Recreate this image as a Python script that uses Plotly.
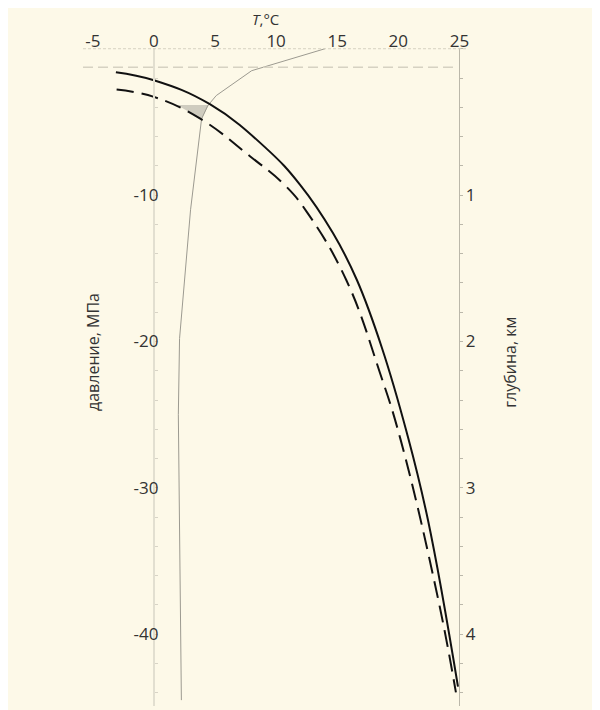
import plotly.graph_objects as go

# ---- data ----
T_ticks = [-5, 0, 5, 10, 15, 20, 25]
P_ticks = [-10, -20, -30, -40]
depth_ticks = [1, 2, 3, 4]

# hydrate stability curve, fresh water (solid)
solid_T = [-3.11, 0.0, 4.58, 9.17, 11.95, 14.65, 16.61, 18.66, 20.70, 22.42, 24.88]
solid_P = [-1.60, -2.15, -3.79, -6.79, -9.28, -12.59, -15.80, -20.44, -26.25, -32.18, -43.58]

# hydrate stability curve, sea water (dashed)
dashed_T = [-3.05, 0.0, 3.76, 7.86, 10.80, 12.58, 15.74, 18.50, 20.19, 23.27, 24.71]
dashed_P = [-2.79, -3.29, -4.76, -7.34, -9.39, -11.23, -15.80, -22.15, -26.72, -37.65, -43.97]

# water temperature profile
profile_T = [14.0, 8.7, 8.0, 5.1, 4.4, 3.9, 3.0, 2.1, 2.0, 2.25]
profile_P = [0.0, -1.35, -1.5, -3.2, -3.9, -4.8, -11.0, -19.8, -25.0, -44.5]

# shaded stability zone
shade_T = [1.9, 4.5, 3.9, 1.9]
shade_P = [-3.85, -3.85, -4.8, -3.85]

surface_P = -1.26
surface_T_end = 24.8

X_RANGE = [-5.8, 25.7]
P_RANGE = [-44.9, 0.05]
DEPTH_RANGE = [4.49, -0.005]

BG = "#fdf9e8"
TXT = "#333333"

def hy(v):
    return str(v).replace("\u2212", "-")

fig = go.Figure()

fig.add_trace(go.Scatter(x=shade_T, y=shade_P, mode="lines", fill="toself",
                         fillcolor="#cfccbf", line=dict(width=0),
                         showlegend=False, hoverinfo="skip"))
fig.add_trace(go.Scatter(x=profile_T, y=profile_P, mode="lines",
                         line=dict(color="#9c9a90", width=1),
                         showlegend=False))
fig.add_trace(go.Scatter(x=solid_T, y=solid_P, mode="lines",
                         line=dict(color="#111111", width=2, shape="spline",
                                   smoothing=1.2),
                         showlegend=False))
fig.add_trace(go.Scatter(x=dashed_T, y=dashed_P, mode="lines",
                         line=dict(color="#111111", width=2, shape="spline",
                                   smoothing=1.2, dash="17px,8px"),
                         showlegend=False))
fig.add_trace(go.Scatter(x=[None], y=[None], yaxis="y2", showlegend=False,
                         hoverinfo="skip"))

# top dotted line (P = 0) and dashed surface line
fig.add_shape(type="line", xref="paper", x0=0, x1=1, yref="y", y0=0, y1=0,
              line=dict(color="#d6d2c2", width=1, dash="3px,2px"))
fig.add_shape(type="line", xref="x", x0=X_RANGE[0], x1=surface_T_end, yref="y",
              y0=surface_P, y1=surface_P,
              line=dict(color="#d6d2c2", width=1.5, dash="10px,5px"))

# axis titles
fig.add_annotation(text="<i>T</i>,°C", xref="paper", x=0.473, yref="paper", y=1,
                   yshift=29, yanchor="middle", xanchor="center",
                   showarrow=False, font=dict(size=15, color=TXT))
fig.add_annotation(text="давление, МПа", xref="paper", x=0.026, yref="paper",
                   y=0.538, textangle=-90, xanchor="center", yanchor="middle",
                   showarrow=False, font=dict(size=16, color=TXT))
fig.add_annotation(text="глубина, км", xref="paper", x=1.109, yref="paper",
                   y=0.523, textangle=-90, xanchor="center", yanchor="middle",
                   showarrow=False, font=dict(size=16, color=TXT))

span = X_RANGE[1] - X_RANGE[0]
fig.update_layout(
    width=592, height=702,
    margin=dict(l=75, r=132, t=40, b=4),
    paper_bgcolor=BG, plot_bgcolor=BG,
    font=dict(family="Open Sans", size=17, color=TXT),
    xaxis=dict(range=X_RANGE, side="top", tickvals=T_ticks,
               ticktext=[hy(v) for v in T_ticks], automargin=False,
               ticklabelstandoff=-3,
               showline=False, showgrid=False, zeroline=False, ticks=""),
    yaxis=dict(range=P_RANGE, anchor="free", automargin=False,
               position=(0 - X_RANGE[0]) / span, side="left",
               tickvals=P_ticks, ticktext=[hy(v) for v in P_ticks],
               showline=True, linecolor="#e2dfd0", linewidth=2,
               ticks="inside", ticklen=3, tickcolor="#d8d4c6",
               ticklabelstandoff=-9,
               minor=dict(tickmode="linear", tick0=0, dtick=2, ticks="inside",
                          ticklen=3, tickcolor="#d8d4c6"),
               showgrid=False, zeroline=False),
    yaxis2=dict(range=DEPTH_RANGE, overlaying="y", anchor="free", automargin=False,
                position=(25 - X_RANGE[0]) / span, side="right",
                tickvals=depth_ticks, ticktext=[str(v) for v in depth_ticks],
                showline=True, linecolor="#bbb8aa", linewidth=1,
                ticks="outside", ticklen=3, tickcolor="#bbb8aa",
                ticklabelstandoff=-1,
                minor=dict(tickmode="linear", tick0=0, dtick=0.2,
                           ticks="outside", ticklen=3, tickcolor="#bbb8aa"),
                showgrid=False, zeroline=False),
)

fig.write_html("out.html")
